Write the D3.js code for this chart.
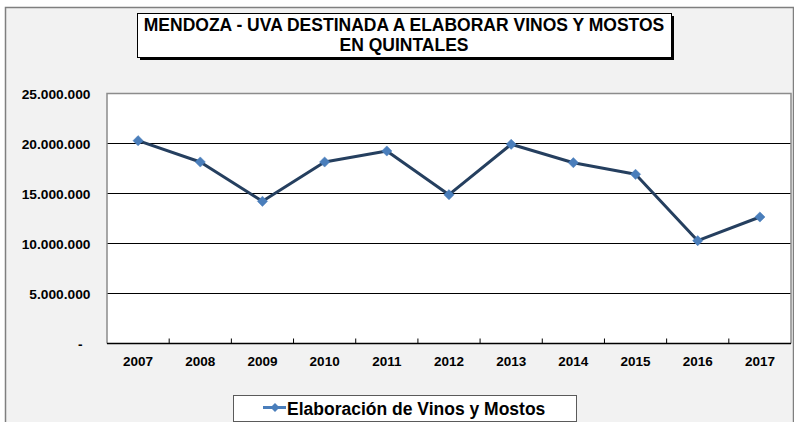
<!DOCTYPE html>
<html>
<head>
<meta charset="utf-8">
<script src="https://cdn.jsdelivr.net/npm/d3@7"></script>
<style>
  html, body { margin: 0; padding: 0; background: #ffffff; }
  svg { display: block; font-family: "Liberation Sans", Arial, sans-serif; }
</style>
</head>
<body>
<svg id="chart" width="794" height="422"></svg>
<script>
// ---- data ----
const titleLines = ["MENDOZA - UVA DESTINADA A ELABORAR VINOS Y MOSTOS", "EN QUINTALES"];
const seriesName = "Elaboración de Vinos y Mostos";
const years = ["2007", "2008", "2009", "2010", "2011", "2012", "2013", "2014", "2015", "2016", "2017"];
const quintales = [20280000, 18150000, 14220000, 18150000, 19250000, 14880000, 19920000, 18080000, 16920000, 10280000, 12650000];
const yTicks = [0, 5000000, 10000000, 15000000, 20000000, 25000000];

// ---- layout ----
const svg = d3.select("#chart");
const plot = { left: 107, right: 791, top: 93.5, bottom: 343.5 };

const fmt = v => v === 0 ? "-" : d3.format(",")(v).replace(/,/g, ".");

// outer chart area
svg.append("rect").attr("x", 5.5).attr("y", 7.5).attr("width", 788).attr("height", 430)
  .attr("fill", "#f2f2f2").attr("stroke", "#7f7f7f").attr("stroke-width", 1.5);

// title box with shadow
const tb = { x: 137, y: 13, w: 534, h: 44 };
svg.append("rect").attr("x", tb.x + 3).attr("y", tb.y + 3).attr("width", tb.w).attr("height", tb.h).attr("fill", "#000");
svg.append("rect").attr("x", tb.x + 0.5).attr("y", tb.y + 0.5).attr("width", tb.w).attr("height", tb.h)
  .attr("fill", "#fff").attr("stroke", "#000").attr("stroke-width", 1);
const titleCx = 404;
titleLines.forEach((t, i) => {
  svg.append("text")
    .attr("x", titleCx).attr("y", 30.5 + i * 20)
    .attr("text-anchor", "middle").attr("font-weight", "bold").attr("font-size", "17.5px")
    .attr("fill", "#000").text(t);
});

// scales
const x = d3.scaleBand().domain(years).range([plot.left, plot.right]).paddingInner(0).paddingOuter(0);
const y = d3.scaleLinear().domain([0, 25000000]).range([plot.bottom, plot.top]);

// plot area
svg.append("rect").attr("x", plot.left).attr("y", plot.top).attr("width", plot.right - plot.left)
  .attr("height", plot.bottom - plot.top).attr("fill", "#fff");

// gridlines
svg.append("g").selectAll("line").data(yTicks.filter(v => v > 0 && v < 25000000)).join("line")
  .attr("x1", plot.left).attr("x2", plot.right)
  .attr("y1", d => y(d)).attr("y2", d => y(d))
  .attr("stroke", "#000").attr("stroke-width", 1);

// plot border (top, left, right gray)
svg.append("path")
  .attr("d", `M${plot.left},${plot.bottom}V${plot.top}H${plot.right}V${plot.bottom}`)
  .attr("fill", "none").attr("stroke", "#8c8c8c").attr("stroke-width", 1.5);

// x axis
const gx = svg.append("g").attr("transform", `translate(0,${plot.bottom})`);
gx.append("line").attr("x1", plot.left).attr("x2", plot.right).attr("y1", 0).attr("y2", 0)
  .attr("stroke", "#000").attr("stroke-width", 1.5);
gx.selectAll("line.tk").data(years.slice(1)).join("line").attr("class", "tk")
  .attr("x1", d => x(d)).attr("x2", d => x(d)).attr("y1", 0).attr("y2", -5)
  .attr("stroke", "#000").attr("stroke-width", 1);
gx.selectAll("text.xl").data(years).join("text").attr("class", "xl")
  .attr("x", d => x(d) + x.bandwidth() / 2).attr("y", 22)
  .attr("text-anchor", "middle").attr("font-weight", "bold").attr("font-size", "13.5px")
  .attr("fill", "#000").text(d => d);

// y axis labels
svg.append("g").selectAll("text").data(yTicks).join("text")
  .attr("transform", d => `translate(${d === 0 ? 82.5 : 90.5},${y(d) + 5}) scale(1.06,1)`)
  .attr("text-anchor", "end").attr("font-weight", "bold").attr("font-size", "13px")
  .attr("fill", "#000").text(d => fmt(d));

// line
const line = d3.line().x((d, i) => x(years[i]) + x.bandwidth() / 2).y(d => y(d));
svg.append("path").datum(quintales).attr("d", line)
  .attr("fill", "none").attr("stroke", "#253f5f").attr("stroke-width", 3).attr("stroke-linejoin", "round");

// markers
const diamond = d3.symbol(d3.symbolSquare, 52);
svg.append("g").selectAll("path").data(quintales).join("path")
  .attr("transform", (d, i) => `translate(${x(years[i]) + x.bandwidth() / 2},${y(d)}) rotate(45)`)
  .attr("d", diamond).attr("fill", "#4a7ebb").attr("stroke", "#4a7ebb").attr("stroke-width", 0.5);

// legend
const lg = svg.append("g");
lg.append("rect").attr("x", 233.5).attr("y", 395.5).attr("width", 343).attr("height", 26)
  .attr("fill", "#fff").attr("stroke", "#5a5a5a").attr("stroke-width", 1);
lg.append("line").attr("x1", 263).attr("x2", 286).attr("y1", 407.5).attr("y2", 407.5)
  .attr("stroke", "#4a7ebb").attr("stroke-width", 3);
lg.append("path").attr("transform", "translate(275,407.5) rotate(45)")
  .attr("d", d3.symbol(d3.symbolSquare, 40)).attr("fill", "#4a7ebb");
lg.append("text").attr("x", 287).attr("y", 414.5)
  .attr("font-weight", "bold").attr("font-size", "17.5px").attr("fill", "#000").text(seriesName);
</script>
</body>
</html>
